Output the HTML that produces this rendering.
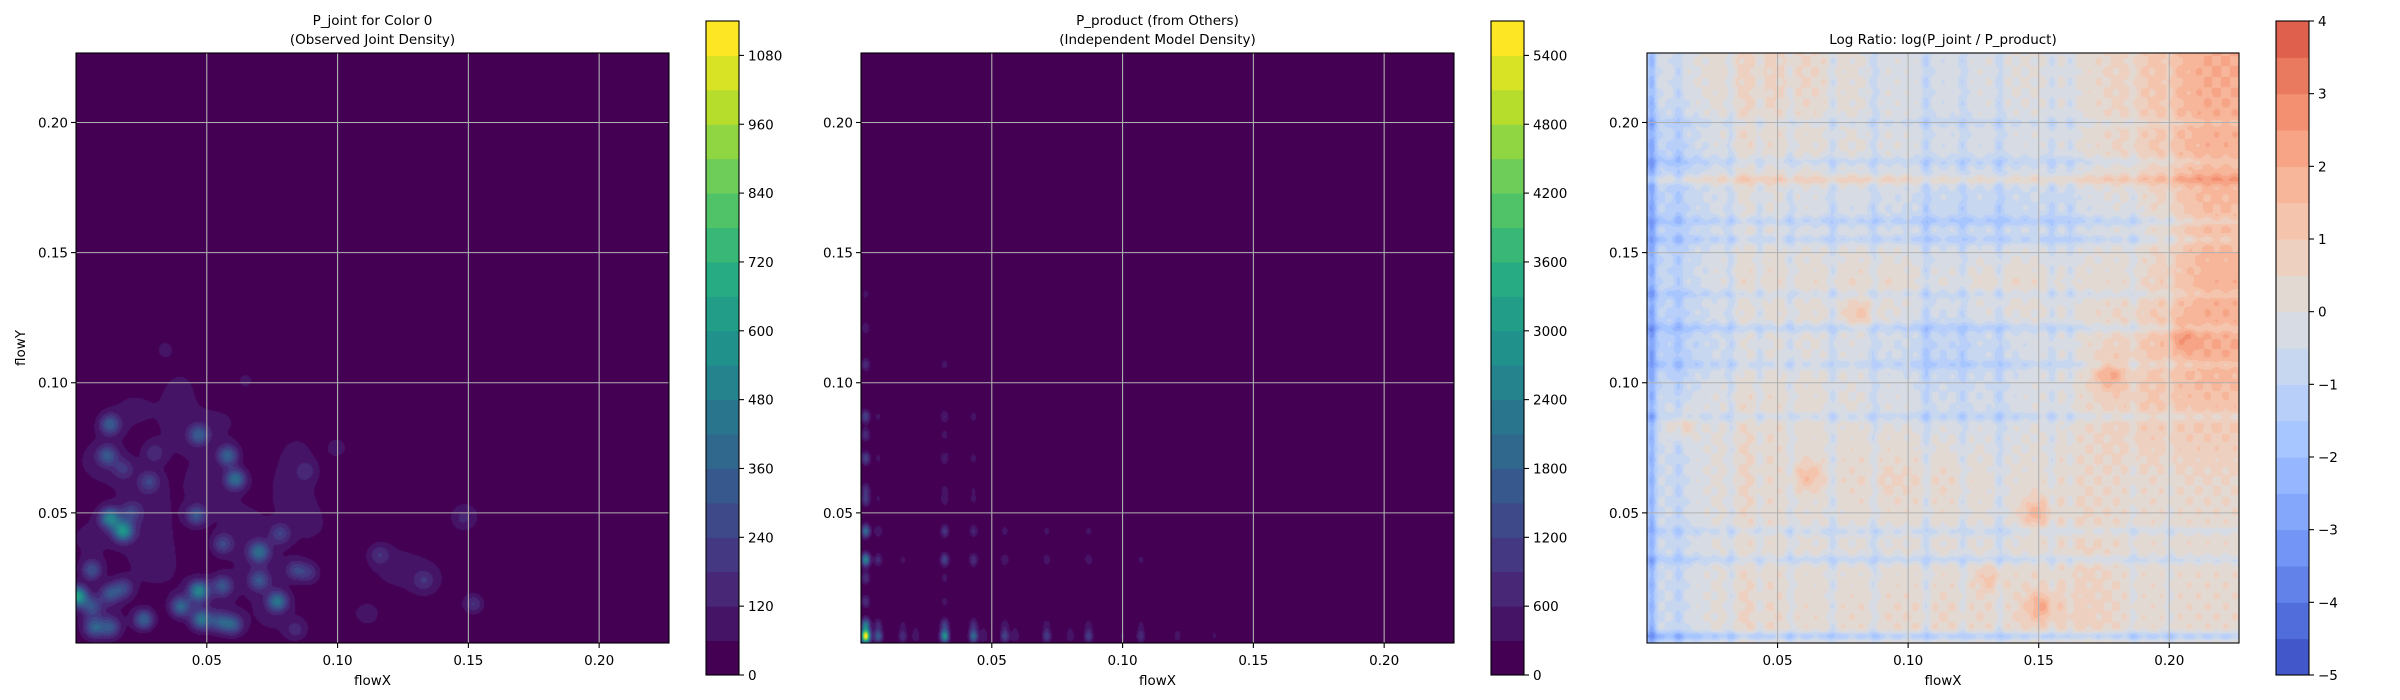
<!DOCTYPE html>
<html><head><meta charset="utf-8">
<style>
html,body{margin:0;padding:0;background:#fff;}
#wrap{position:relative;width:2400px;height:700px;overflow:hidden;font-family:"DejaVu Sans","Liberation Sans",sans-serif;}
canvas{position:absolute;}
svg{position:absolute;left:0;top:0;}
text{font-family:"DejaVu Sans","Liberation Sans",sans-serif;font-size:13.5px;fill:#000;}
</style></head>
<body>
<div id="wrap">
<canvas id="c1"></canvas>
<canvas id="c2"></canvas>
<canvas id="c3"></canvas>
<svg id="ov" width="2400" height="700"></svg>
</div>
<script>
// ---------- data ----------
const xTicks = [0.05, 0.10, 0.15, 0.20];
const yTicks = [0.05, 0.10, 0.15, 0.20];
const tickLabels = ["0.05", "0.10", "0.15", "0.20"];
const domainMax = 0.2267;

// panel 1 : observed joint density blobs
const blobX   = [0.013,0.012,0.018,0.028,0.030,0.047,0.058,0.061,0.013,0.018,0.021,0.046,0.056,0.070,0.078,0.006,0.013,0.018,0.0004,0.006,0.007,0.013,0.026,0.040,0.047,0.048,0.056,0.055,0.060,0.070,0.077,0.084,0.089,0.100,0.116,0.133,0.152,0.148,0.084,0.112,0.034,0.065,0.088];
const blobY   = [0.084,0.072,0.067,0.062,0.073,0.080,0.072,0.063,0.048,0.043,0.050,0.049,0.038,0.035,0.042,0.028,0.019,0.021,0.018,0.014,0.006,0.006,0.009,0.014,0.020,0.009,0.022,0.008,0.007,0.024,0.016,0.028,0.027,0.075,0.034,0.024,0.015,0.048,0.005,0.011,0.113,0.101,0.066];
const blobAmp = [300,260,140,190,130,290,330,380,460,520,180,270,210,340,190,260,250,220,620,230,290,250,340,340,460,380,260,260,290,250,380,200,160,90,130,120,180,90,120,90,70,70,100];
const broadX   = [0.008,0.030,0.050,0.070,0.020,0.082,0.050,0.100,0.120,0.135,0.150,0.040,0.090,0.028,0.063,0.005,0.040,0.075,0.010,0.058,0.025,0.085];
const broadY   = [0.070,0.030,0.060,0.030,0.090,0.060,0.015,0.012,0.030,0.025,0.050,0.100,0.045,0.045,0.045,0.040,0.080,0.010,0.010,0.085,0.060,0.075];
const broadAmp = [72,75,72,70,62,62,72,58,65,60,52,58,62,65,65,70,60,65,70,55,60,55];

// panel 2 : independent product marginals
const margXPos = [0.0018,0.0066,0.016,0.021,0.032,0.043,0.047,0.055,0.059,0.071,0.080,0.087,0.100,0.107,0.121,0.135];
const margXAmp = [1,0.30,0.15,0.10,0.50,0.35,0.10,0.22,0.10,0.20,0.10,0.20,0.06,0.15,0.08,0.06];
const margYPos = [0.0026,0.007,0.016,0.025,0.032,0.043,0.055,0.059,0.071,0.080,0.087,0.107,0.121,0.134];
const margYAmp = [1,0.40,0.15,0.15,0.45,0.35,0.18,0.15,0.22,0.15,0.22,0.15,0.10,0.07];
const productPeak = 5600;

// panel 3 : log ratio coarse field (rows top->bottom, cols left->right)
const ratioGrid = [
 [-0.3,0.7,0.5,-0.1,-0.3,0.0,0.1,0.9,2.0],
 [-1.0,0.4,0.1,0.0,-0.3,-0.3,0.0,0.8,1.8],
 [-1.0,0.1,-0.3,-0.4,-0.8,-0.8,-0.5,0.0,1.5],
 [-0.8,0.4,0.3,0.5,0.0,0.5,0.2,0.4,1.8],
 [-1.2,0.0,0.0,-0.3,-1.0,-0.5,0.1,1.0,2.0],
 [-0.5,0.5,0.3,0.0,-0.3,-0.3,0.3,1.0,1.2],
 [-0.5,0.6,0.1,0.6,0.5,0.1,0.5,0.4,0.5],
 [-0.5,0.4,0.1,0.0,0.1,0.0,0.6,0.3,0.3],
 [-0.5,0.6,0.3,0.4,0.5,0.4,0.8,0.3,0.4]
];
const stripeXPos = [0.0018,0.012,0.032,0.043,0.055,0.071,0.087,0.107,0.121,0.135,0.155,0.162,0.186,0.200];
const stripeXAmp = [-1.8,-0.6,-0.7,-0.6,-0.6,-0.7,-0.7,-0.8,-0.6,-0.7,-0.6,-0.5,-0.5,-0.5];
const stripeYPos = [0.0026,0.032,0.043,0.087,0.107,0.121,0.134,0.155,0.162,0.178,0.185,0.200];
const stripeYAmp = [-1.5,-0.8,-0.6,-0.7,-0.6,-0.8,-0.6,-0.7,-0.7,0.9,-0.6,-0.5];
const spotX = [0.177,0.149,0.151,0.062,0.082,0.013,0.205,0.132];
const spotY = [0.103,0.050,0.014,0.064,0.126,0.084,0.118,0.025];
const spotAmp = [1.5,1.5,1.5,1.3,1.0,1.3,1.0,1.0];

const levels1 = []; for (let v=0; v<=1140; v+=60) levels1.push(v);
const levels2 = []; for (let v=0; v<=5700; v+=300) levels2.push(v);
const levels3 = []; for (let v=-5; v<=4.001; v+=0.5) levels3.push(+v.toFixed(1));
const cbTicks1 = [0,120,240,360,480,600,720,840,960,1080];
const cbTicks2 = [0,600,1200,1800,2400,3000,3600,4200,4800,5400];
const cbTicks3 = [-5,-4,-3,-2,-1,0,1,2,3,4];
const cbLabels3 = ["\u22125","\u22124","\u22123","\u22122","\u22121","0","1","2","3","4"];

// ---------- layout ----------
const T=53, B=643, CBT=21, CBB=675;
const panels = [
 {L:76, R:669, cbL:706, cbR:739, title:["P_joint for Color 0","(Observed Joint Density)"], ylabel:true},
 {L:861, R:1454, cbL:1491, cbR:1524, title:["P_product (from Others)","(Independent Model Density)"], ylabel:false},
 {L:1647, R:2239, cbL:2276, cbR:2309, title:["Log Ratio: log(P_joint / P_product)"], ylabel:false}
];

// ---------- colormaps ----------
const viridisStops=[[68,1,84],[72,35,116],[64,67,135],[52,94,141],[41,120,142],[33,145,140],[34,168,132],[68,191,112],[122,209,81],[189,223,38],[253,231,37]];
const coolStops=[[59,76,192],[68,90,204],[77,104,215],[87,117,225],[98,130,234],[108,142,241],[119,154,247],[130,165,251],[141,176,254],[152,185,255],[163,194,255],[174,201,253],[184,208,249],[194,213,244],[204,217,238],[213,219,230],[221,221,221],[229,216,209],[236,211,197],[241,204,185],[245,196,173],[247,187,160],[247,177,148],[247,166,135],[244,154,123],[241,141,111],[236,127,99],[229,112,88],[222,96,77],[213,80,66],[203,62,56],[192,40,47],[180,4,38]];
function cmap(stops,t){t=Math.max(0,Math.min(1,t));const f=t*(stops.length-1);const i=Math.min(stops.length-2,Math.floor(f));const u=f-i;const a=stops[i],b=stops[i+1];return [Math.round(a[0]+(b[0]-a[0])*u),Math.round(a[1]+(b[1]-a[1])*u),Math.round(a[2]+(b[2]-a[2])*u)];}
function bandColors(levels,stops,vmin,vmax){const n=levels.length-1;const out=[];for(let i=0;i<n;i++){
  if(vmin===undefined) out.push(cmap(stops,n===1?0:i/(n-1)));
  else {const mid=(levels[i]+levels[i+1])/2; out.push(cmap(stops,(mid-vmin)/(vmax-vmin)));}
 }return out;}
const normRange=[null,null,[-5,5]];

// ---------- fields ----------
const g=(d,s)=>Math.exp(-d*d/(2*s*s));
function field1(x,y){let v=0;for(let i=0;i<blobX.length;i++){const dx=x-blobX[i],dy=y-blobY[i];if(Math.abs(dx)>0.012||Math.abs(dy)>0.012)continue;v+=blobAmp[i]*Math.exp(-(dx*dx+dy*dy)/(2*0.0027*0.0027));}
 for(let i=0;i<broadX.length;i++){const dx=x-broadX[i],dy=y-broadY[i];v+=broadAmp[i]*Math.exp(-(dx*dx+dy*dy)/(2*0.0085*0.0085));}return v;}
function marg(p,pos,amp,s){let v=0;for(let i=0;i<pos.length;i++){const d=p-pos[i];if(Math.abs(d)>0.01)continue;v+=amp[i]*g(d,s);}return v;}
function field2(x,y){return productPeak*marg(x,margXPos,margXAmp,0.0012)*marg(y,margYPos,margYAmp,0.0018);}
function field3(x,y){const nr=ratioGrid.length,nc=ratioGrid[0].length;
 const cx=Math.max(0,Math.min(nc-1,(x/domainMax)*nc-0.5)), cy=Math.max(0,Math.min(nr-1,((domainMax-y)/domainMax)*nr-0.5));
 const i0=Math.min(nc-2,Math.floor(cx)),j0=Math.min(nr-2,Math.floor(cy));const u=cx-i0,w=cy-j0;
 let v=ratioGrid[j0][i0]*(1-u)*(1-w)+ratioGrid[j0][i0+1]*u*(1-w)+ratioGrid[j0+1][i0]*(1-u)*w+ratioGrid[j0+1][i0+1]*u*w;
 for(let i=0;i<stripeXPos.length;i++){const d=x-stripeXPos[i];if(Math.abs(d)<0.006)v+=stripeXAmp[i]*g(d,0.0013);}
 for(let i=0;i<stripeYPos.length;i++){const d=y-stripeYPos[i];if(Math.abs(d)<0.006)v+=stripeYAmp[i]*g(d,0.0013);}
 for(let i=0;i<spotX.length;i++){const dx=x-spotX[i],dy=y-spotY[i];v+=spotAmp[i]*Math.exp(-(dx*dx+dy*dy)/(2*0.004*0.004));}
 v+=0.25*Math.sin(x*900)*Math.sin(y*780);
 return v;}

function render(id,p,fn,levels,stops,nr){
 const cv=document.getElementById(id);const w=p.R-p.L,h=B-T;cv.width=w;cv.height=h;cv.style.left=p.L+'px';cv.style.top=T+'px';
 const ctx=cv.getContext('2d');const img=ctx.createImageData(w,h);const cols=nr?bandColors(levels,stops,nr[0],nr[1]):bandColors(levels,stops);const lo=levels[0],st=levels[1]-levels[0],n=cols.length;
 for(let py=0;py<h;py++){const y=domainMax*(1-(py+0.5)/h);for(let px=0;px<w;px++){const x=domainMax*(px+0.5)/w;let k=Math.floor((fn(x,y)-lo)/st);k=Math.max(0,Math.min(n-1,k));const c=cols[k];const o=(py*w+px)*4;img.data[o]=c[0];img.data[o+1]=c[1];img.data[o+2]=c[2];img.data[o+3]=255;}}
 ctx.putImageData(img,0,0);}
render('c1',panels[0],field1,levels1,viridisStops,null);
render('c2',panels[1],field2,levels2,viridisStops,null);
render('c3',panels[2],field3,levels3,coolStops,normRange[2]);

// ---------- overlay ----------
const NS='http://www.w3.org/2000/svg';const ov=document.getElementById('ov');
function el(tag,attrs,parent,txt){const e=document.createElementNS(NS,tag);for(const k in attrs)e.setAttribute(k,attrs[k]);if(txt!==undefined)e.textContent=txt;(parent||ov).appendChild(e);return e;}
const names=['joint','product','ratio'];
const allLevels=[levels1,levels2,levels3];const allStops=[viridisStops,viridisStops,coolStops];
const allCbTicks=[cbTicks1,cbTicks2,cbTicks3];const allCbLabels=[cbTicks1.map(String),cbTicks2.map(String),cbLabels3];
panels.forEach((p,pi)=>{
 const grp=el('g',{});
 
 
 const xs=v=>p.L+(p.R-p.L)*v/domainMax, ys=v=>B-(B-T)*v/domainMax;
 xTicks.forEach((t,i)=>{
  const gl=el('line',{x1:xs(t),x2:xs(t),y1:T,y2:B,stroke:'#b0b0b0','stroke-width':1.1},grp);
  
  
  el('line',{x1:xs(t),x2:xs(t),y1:B,y2:B+5,stroke:'#000','stroke-width':1.1},grp);
  const tl=el('text',{x:xs(t),y:B+22,'text-anchor':'middle'},grp,tickLabels[i]);
  
  
 });
 yTicks.forEach((t,i)=>{
  const gl=el('line',{x1:p.L,x2:p.R,y1:ys(t),y2:ys(t),stroke:'#b0b0b0','stroke-width':1.1},grp);
  
  
  el('line',{x1:p.L-5,x2:p.L,y1:ys(t),y2:ys(t),stroke:'#000','stroke-width':1.1},grp);
  const tl=el('text',{x:p.L-8,y:ys(t)+5,'text-anchor':'end'},grp,tickLabels[i]);
  
  
 });
 const fr=el('rect',{x:p.L,y:T,width:p.R-p.L,height:B-T,fill:'none',stroke:'#000','stroke-width':1.1},grp);
 
 
 const cx=(p.L+p.R)/2;
 p.title.forEach((s,i)=>{
  const yy=p.title.length===2?(25+i*19):44;
  const tt=el('text',{x:cx,y:yy,'text-anchor':'middle','font-size':'15.5'},grp,s);
  
  
 });
 const xl=el('text',{x:cx,y:685,'text-anchor':'middle'},grp,'flowX');
 
 
 if(p.ylabel){const yl=el('text',{x:0,y:0,'text-anchor':'middle',transform:'translate(25,'+((T+B)/2)+') rotate(-90)'},grp,'flowY');
  
  }
 // colorbar
 const lv=allLevels[pi],nr=normRange[pi];const cols=nr?bandColors(lv,allStops[pi],nr[0],nr[1]):bandColors(lv,allStops[pi]);const lo=lv[0],hi=lv[lv.length-1];
 const cs=v=>CBB-(CBB-CBT)*(v-lo)/(hi-lo);
 const cb=el('g',{},grp);
 
 
 for(let i=0;i<cols.length;i++){const r=el('rect',{x:p.cbL,y:cs(lv[i+1]),width:p.cbR-p.cbL,height:cs(lv[i])-cs(lv[i+1])+0.5,fill:'rgb('+cols[i].join(',')+')'},cb);
  
  }
 el('rect',{x:p.cbL,y:CBT,width:p.cbR-p.cbL,height:CBB-CBT,fill:'none',stroke:'#000','stroke-width':1.1},cb);
 allCbTicks[pi].forEach((t,i)=>{
  el('line',{x1:p.cbR,x2:p.cbR+5,y1:cs(t),y2:cs(t),stroke:'#000','stroke-width':1.1},cb);
  const tl=el('text',{x:p.cbR+9,y:cs(t)+5},cb,allCbLabels[pi][i]);
  
  
 });
});
</script>
</body></html>
